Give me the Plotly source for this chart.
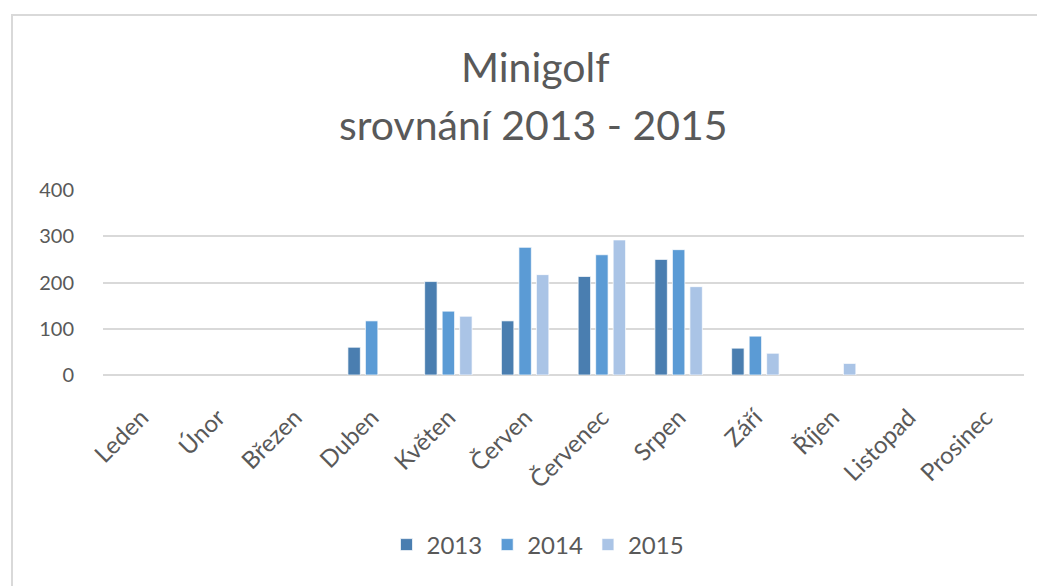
import plotly.graph_objects as go

months = ["Leden", "Únor", "Březen", "Duben", "Květen", "Červen",
          "Červenec", "Srpen", "Září", "Říjen", "Listopad", "Prosinec"]
v2013 = [None, None, None, 60, 202, 117, 213, 250, 58, None, None, None]
v2014 = [None, None, None, 117, 138, 276, 260, 271, 84, None, None, None]
v2015 = [None, None, None, None, 127, 217, 292, 191, 47, 25, None, None]
years = ["2013", "2014", "2015"]
colors = ["#4a7eb0", "#5b9bd5", "#aac4e6"]

OFF = 8  # page body margin offset
W, H = 1045 - OFF, 586 - OFF
L, R, T, B = 103 - OFF, 1024 - OFF, 190 - OFF, 375 - OFF
pw, ph = R - L, B - T

def px(x):
    return (x - OFF - L) / pw

def py(y):
    return (B - (y - OFF)) / ph

font = "Lato, Carlito, Calibri, sans-serif"
gray = "#595959"

fig = go.Figure()
for name, vals, c in zip(years, [v2013, v2014, v2015], colors):
    fig.add_trace(go.Bar(x=months, y=vals, name=name, marker_color=c,
                         marker_line=dict(color="rgba(255,255,255,0.7)", width=1)))

fig.update_layout(
    width=W, height=H,
    margin=dict(l=L, r=W - R, t=T, b=H - B, autoexpand=False),
    paper_bgcolor="white", plot_bgcolor="white",
    barmode="group", bargap=0.316, bargroupgap=0.29,
    font=dict(family=font, color=gray),
    showlegend=True,
    legend=dict(orientation="h", x=px(538), xanchor="center", y=py(545), yanchor="middle",
                font=dict(size=24, color=gray), itemwidth=30, traceorder="normal"),
    xaxis=dict(tickangle=-45, tickfont=dict(size=24, color=gray), showgrid=False,
               showline=False, ticks="outside", ticklen=18, tickcolor="rgba(0,0,0,0)"),
    yaxis=dict(range=[0, 400], dtick=100, tickfont=dict(size=20, color=gray),
               gridcolor="#d9d9d9", gridwidth=2, zeroline=True, zerolinecolor="#d9d9d9",
               zerolinewidth=2, ticks="outside", ticklen=24, tickcolor="rgba(0,0,0,0)"),
    shapes=[dict(type="rect", xref="paper", yref="paper",
                 x0=px(12), x1=px(1060), y0=py(15), y1=py(600),
                 line=dict(color="#d9d9d9", width=2), fillcolor="rgba(0,0,0,0)", layer="below")],
    annotations=[
        dict(text="Minigolf", xref="paper", yref="paper", x=px(535), y=py(67),
             xanchor="center", yanchor="middle", showarrow=False,
             font=dict(size=41, color=gray, family=font)),
        dict(text="srovnání 2013 - 2015", xref="paper", yref="paper", x=px(533), y=py(124),
             xanchor="center", yanchor="middle", showarrow=False,
             font=dict(size=41, color=gray, family=font)),
    ],
)

fig.write_html("out.html")
